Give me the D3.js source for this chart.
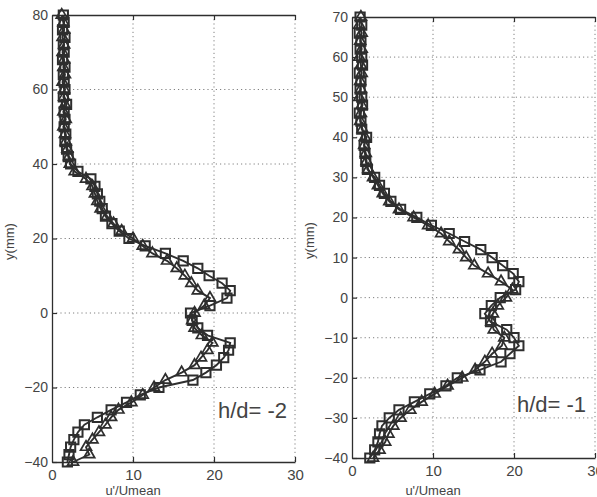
<!DOCTYPE html>
<html>
<head>
<meta charset="utf-8">
<script src="https://cdn.jsdelivr.net/npm/d3@7"></script>
<style>
  html, body { margin: 0; padding: 0; background: #fff; }
  svg { display: block; }
</style>
</head>
<body>
<svg id="chart" width="597" height="497"></svg>
<script>
// Turbulence intensity profiles u'/Umean (%) versus height y (mm)
// Panel h/d = -2
const yLeft = [80,78,76,74,72,70,68,66,64,62,60,58,56,54,52,50,48,46,44,42,40,38,36,34,32,30,28,26,24,22,20,18,16,14,12,10,8,6,4,2,0,-2,-4,-6,-8,-10,-12,-14,-16,-18,-20,-22,-24,-26,-28,-30,-32,-34,-36,-38,-40];
const leftSquares = [1.4,1.5,1.3,1.6,1.4,1.5,1.3,1.6,1.4,1.5,1.6,1.4,1.8,1.5,1.6,1.5,1.7,1.6,1.8,2.0,2.3,3.2,4.8,5.3,5.6,5.9,6.2,6.6,7.4,8.3,9.5,11.5,14.0,16.2,18.0,19.4,21.0,22.0,21.6,19.5,17.1,17.3,18.0,19.2,22.0,21.8,21.2,20.3,19.0,17.4,13.2,10.9,9.2,7.3,5.6,4.0,3.2,2.7,2.3,2.1,1.9];
const leftTriangles = [1.2,1.4,1.5,1.3,1.5,1.3,1.5,1.4,1.6,1.3,1.5,1.5,1.6,1.4,1.7,1.4,1.6,1.7,1.9,2.1,2.2,2.8,4.2,5.0,5.3,5.6,6.0,6.8,7.6,8.6,10.0,11.2,12.4,14.2,15.4,16.4,17.2,18.0,19.5,18.8,17.6,17.3,17.6,18.5,19.8,19.2,18.4,17.6,16.0,14.0,12.6,11.2,9.8,8.2,7.3,6.6,5.8,5.0,4.2,4.6,2.6];

// Panel h/d = -1
const yRight = [70,68,66,64,62,60,58,56,54,52,50,48,46,44,42,40,38,36,34,32,30,28,26,24,22,20,18,16,14,12,10,8,6,4,2,0,-2,-4,-6,-8,-10,-12,-14,-16,-18,-20,-22,-24,-26,-28,-30,-32,-34,-36,-38,-40];
const rightSquares = [1.0,1.2,0.9,1.1,1.0,1.2,1.3,0.9,1.1,1.0,1.2,1.3,0.9,1.1,1.2,1.8,1.5,1.6,1.7,1.9,2.8,3.4,4.0,4.8,6.0,8.0,9.8,12.0,13.9,15.9,17.3,18.6,19.9,20.6,20.2,18.3,17.2,16.4,17.1,19.1,20.0,20.6,19.5,18.4,15.8,13.0,11.6,9.6,7.7,5.8,4.6,3.7,3.4,3.2,2.8,2.2];
const rightTriangles = [1.1,0.9,1.2,1.0,1.2,0.9,1.1,1.2,1.0,1.1,0.9,1.2,1.1,1.0,1.3,1.6,1.5,1.7,1.8,2.0,2.6,3.2,3.8,4.6,5.8,7.6,9.4,11.0,12.0,13.2,14.1,15.1,16.8,18.4,19.8,19.0,18.0,17.4,17.2,17.5,18.8,18.5,17.3,16.4,15.2,13.6,11.8,10.2,8.6,7.2,6.0,5.1,4.5,4.1,3.4,2.6];

const xTicks = [0, 10, 20, 30];
const yTicksLeft = [-40, -20, 0, 20, 40, 60, 80];
const yTicksRight = [-40, -30, -20, -10, 0, 10, 20, 30, 40, 50, 60, 70];
const xLabel = "u'/Umean";
const yLabel = "y(mm)";

const panels = [
  { x0: 52, x1: 295, y0: 15, y1: 462, yDomain: [-40, 80], yTicks: yTicksLeft, y: yLeft,
    squares: leftSquares, triangles: leftTriangles, note: "h/d= -2", noteX: 218, noteY: 418, yLabelX: 11 },
  { x0: 352, x1: 595, y0: 17, y1: 458, yDomain: [-40, 70], yTicks: yTicksRight, y: yRight,
    squares: rightSquares, triangles: rightTriangles, note: "h/d= -1", noteX: 517, noteY: 412, yLabelX: 311 }
];

const svg = d3.select("#chart");
const ink = "#2e2e2e";
const textInk = "#444";
const font = "Arial, 'Liberation Sans', sans-serif";

panels.forEach(p => {
  const x = d3.scaleLinear().domain([0, 30]).range([p.x0, p.x1]);
  const y = d3.scaleLinear().domain(p.yDomain).range([p.y1, p.y0]);
  const g = svg.append("g");

  // dotted grid
  const grid = g.append("g").attr("stroke", "#808080").attr("stroke-width", 1)
    .attr("stroke-dasharray", "1.2,3").attr("fill", "none");
  xTicks.filter(t => t > 0).forEach(t => {
    grid.append("line").attr("x1", x(t)).attr("x2", x(t)).attr("y1", p.y0).attr("y2", p.y1);
  });
  p.yTicks.filter(t => t > p.yDomain[0] && t < p.yDomain[1]).forEach(t => {
    grid.append("line").attr("x1", p.x0).attr("x2", p.x1).attr("y1", y(t)).attr("y2", y(t));
  });

  // bottom axis
  const xAxis = d3.axisBottom(x).tickValues(xTicks).tickSizeInner(-5).tickSizeOuter(0).tickPadding(7);
  const ga = g.append("g").attr("transform", `translate(0,${p.y1})`).call(xAxis);
  // top axis (ticks only, no labels)
  const gt = g.append("g").attr("transform", `translate(0,${p.y0})`)
    .call(d3.axisTop(x).tickValues(xTicks).tickSizeInner(-5).tickSizeOuter(0).tickFormat(""));
  // left axis
  const gl = g.append("g").attr("transform", `translate(${p.x0},0)`)
    .call(d3.axisLeft(y).tickValues(p.yTicks).tickSizeInner(-5).tickSizeOuter(0).tickPadding(4));

  [ga, gt, gl].forEach(a => {
    a.select(".domain").attr("stroke", ink).attr("stroke-width", 1.3);
    a.selectAll(".tick line").attr("stroke", ink).attr("stroke-width", 1.2);
    a.selectAll("text").attr("fill", textInk).attr("font-family", font);
  });
  ga.selectAll("text").attr("font-size", 15);
  gl.selectAll("text").attr("font-size", 14);
  gt.selectAll(".tick").filter(d => d === 0).remove();
  ga.selectAll(".tick line").filter(d => d === 0).remove();

  // axis titles
  g.append("text").attr("x", x(10)).attr("y", 495)
    .attr("text-anchor", "middle").attr("font-family", font).attr("font-size", 13)
    .attr("fill", textInk).text(xLabel);
  g.append("text").attr("transform", `translate(${p.yLabelX},${(p.y0 + p.y1) / 2 + 3}) rotate(-90)`)
    .attr("text-anchor", "middle").attr("dominant-baseline", "middle")
    .attr("font-family", font).attr("font-size", 13).attr("fill", textInk).text(yLabel);

  // series
  const line = d3.line().x(d => x(d[0])).y(d => y(d[1]));
  const sq = p.squares.map((v, i) => [v, p.y[i]]);
  const tr = p.triangles.map((v, i) => [v, p.y[i]]);

  [tr, sq].forEach(data => {
    g.append("path").datum(data).attr("d", line)
      .attr("fill", "none").attr("stroke", ink).attr("stroke-width", 1.9);
  });

  const triSym = d3.symbol().type(d3.symbolTriangle).size(52);
  g.append("g").selectAll("path").data(tr).join("path")
    .attr("d", triSym).attr("transform", d => `translate(${x(d[0])},${y(d[1])})`)
    .attr("fill", "none").attr("stroke", ink).attr("stroke-width", 1.7);

  const sqSym = d3.symbol().type(d3.symbolSquare).size(85);
  g.append("g").selectAll("path").data(sq).join("path")
    .attr("d", sqSym).attr("transform", d => `translate(${x(d[0])},${y(d[1])})`)
    .attr("fill", "none").attr("stroke", ink).attr("stroke-width", 2);

  // case label
  g.append("text").attr("x", p.noteX).attr("y", p.noteY)
    .attr("font-family", font).attr("font-size", 22).attr("fill", textInk).text(p.note);
});
</script>
</body>
</html>
